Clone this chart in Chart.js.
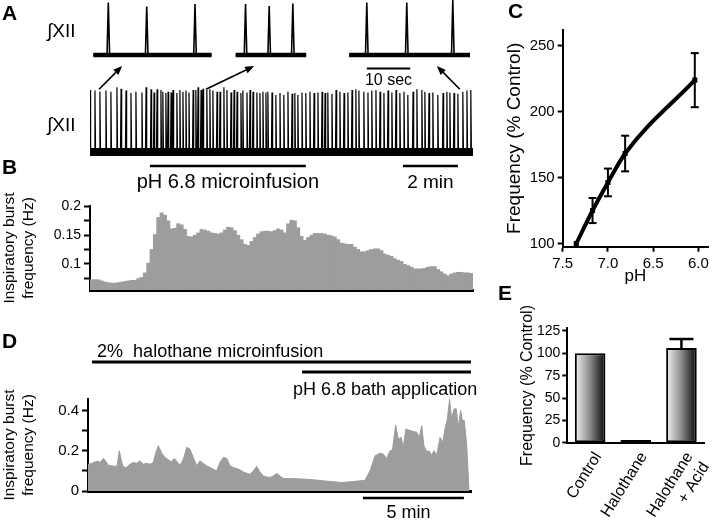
<!DOCTYPE html>
<html><head><meta charset="utf-8">
<script src="https://cdn.jsdelivr.net/npm/chart.js@4.4.1/dist/chart.umd.min.js"></script>
<style>
html,body{margin:0;padding:0;background:#fff;}
#wrap{position:relative;width:720px;height:520px;overflow:hidden;background:#fff;}
canvas{position:absolute;}
.lbl{position:absolute;font:bold 21px "Liberation Sans",Arial,sans-serif;color:#000;line-height:1;}
</style></head><body>
<div id="wrap">
<canvas id="cA" width="480" height="195" style="left:0;top:0"></canvas>
<canvas id="cB" width="480" height="125" style="left:0;top:178px"></canvas>
<canvas id="cC" width="240" height="290" style="left:480px;top:0"></canvas>
<canvas id="cD" width="490" height="200" style="left:0;top:320px"></canvas>
<canvas id="cE" width="240" height="240" style="left:480px;top:280px"></canvas>
<div class="lbl" style="left:2px;top:2px">A</div>
<div class="lbl" style="left:2px;top:156px">B</div>
<div class="lbl" style="left:508px;top:0px">C</div>
<div class="lbl" style="left:2px;top:330px">D</div>
<div class="lbl" style="left:498px;top:282px">E</div>
</div>
<script>
// ================= DATA =================
// Panel A – integrated XII nerve activity
const aBurstMin = [0.00,0.18,0.36,0.58,0.76,0.98,1.13,1.31,1.49,1.67,1.89,2.04,2.22,2.33,2.44,2.58,2.65,2.76,2.84,2.95,
 3.02,3.16,3.27,3.38,3.49,3.60,3.75,3.85,3.93,4.04,4.11,4.25,4.36,4.47,4.62,4.73,4.87,4.98,5.13,5.24,
 5.35,5.49,5.56,5.71,5.82,5.93,6.07,6.18,6.29,6.40,6.47,6.62,6.76,6.91,7.05,7.20,7.35,7.45,7.56,7.71,
 7.85,8.00,8.15,8.29,8.44,8.55,8.65,8.80,8.95,9.09,9.24,9.38,9.53,9.67,9.78,9.96,10.11,10.25,10.40,10.55,
 10.69,10.84,10.98,11.13,11.27,11.42,11.56,11.75,11.89,12.07,12.18,12.33,12.47,12.65,12.84,12.98,13.09,13.24,13.38,13.56,
 13.71,13.85];
const aBurstAmp = [0.97,0.96,0.94,0.96,0.94,1.01,0.99,0.96,0.92,0.94,0.93,1.01,0.98,0.93,0.98,0.97,0.94,0.92,0.94,0.93,
 0.97,0.92,0.97,0.94,0.96,0.93,0.97,0.97,1.01,0.97,0.99,0.97,0.98,0.96,0.94,0.94,1.01,0.97,0.93,0.97,
 0.94,0.92,0.96,0.93,0.97,0.94,0.93,0.92,0.94,0.93,0.94,0.93,0.89,0.92,0.89,0.94,0.91,0.92,0.89,0.93,
 0.92,0.94,0.92,0.93,0.94,0.92,0.93,0.91,0.97,0.94,0.92,0.93,0.97,0.98,0.96,0.94,0.93,0.96,0.97,0.94,
 0.92,0.96,0.93,0.97,0.92,0.94,0.89,0.94,0.98,0.97,0.94,0.92,0.93,0.89,0.92,0.94,0.93,0.92,0.91,0.94,
 0.96,0.97];
const aTraceEndMin = 13.93;
const aInsetSegSec = [[0,27.5],[33.1,49.5],[59.5,87.6]];
const aInsetSpikeSec = [3.49,12.42,23.65,35.4,40.9,46.4,63.6,72.9,83.6];
const aInsetSpikeAmp = [1.05,0.97,1.02,1.02,0.98,1.03,1.05,1.05,1.1];
const aInfusionMin = [2.18,7.85];
const aTwoMinBar = [11.38,13.38];
const aTenSecBar = [63.6,73.7];
const aArrowFromMin = [0.33,4.22,13.45];
const aArrowToSec = [6.7,37.4,79.9];

// Panel B – inspiratory burst frequency (Hz), one value per bin
const bFreq = [0.072,0.072,0.072,0.070,0.068,0.067,0.066,0.066,0.067,0.068,0.069,0.070,0.071,0.071,0.074,0.076,0.084,0.101,0.125,0.151,
 0.181,0.189,0.185,0.175,0.161,0.162,0.170,0.168,0.160,0.148,0.147,0.150,0.154,0.160,0.159,0.157,0.154,0.153,0.152,0.154,
 0.159,0.164,0.163,0.158,0.150,0.142,0.134,0.132,0.139,0.146,0.152,0.156,0.157,0.157,0.156,0.158,0.161,0.159,
 0.154,0.170,0.176,0.175,0.163,0.148,0.141,0.146,0.150,0.153,0.153,0.153,0.152,0.150,0.149,0.147,0.142,0.136,0.135,0.134,
 0.134,0.129,0.125,0.121,0.121,0.123,0.125,0.126,0.126,0.123,0.117,0.115,0.113,0.109,0.106,0.104,0.099,0.097,0.094,0.091,
 0.091,0.091,0.092,0.094,0.095,0.095,0.090,0.086,0.082,0.079,0.082,0.084,0.085,0.085,0.084,0.084,0.083];
const bTicks = [0.075,0.1,0.125,0.15,0.175,0.2];
const bLabeledTicks = [0.1,0.15,0.2];

// Panel C – frequency vs pH
const cPH = [7.35,7.17,7.0,6.81,6.04];
const cFreq = [100,125.1,146.4,168.3,223.9];
const cErr = [0,9.5,10.5,13.5,20.5];
const cXTicks = [7.5,7.0,6.5,6.0];
const cYTicks = [100,150,200,250];

// Panel D – burst frequency during halothane (time in min)
const dTime = [0,0.18,0.35,0.51,0.59,0.76,0.87,1.01,1.17,1.34,1.44,1.55,1.67,1.75,1.91,2.08,2.24,2.41,2.57,2.74,
 2.90,3.07,3.23,3.35,3.48,3.65,3.81,3.98,4.11,4.27,4.44,4.55,4.72,4.89,5.05,5.21,5.38,5.54,5.71,5.88,
 6.04,6.20,6.37,6.53,6.70,6.87,7.03,7.19,7.36,7.52,7.69,7.86,8.02,8.18,8.35,8.51,8.68,8.85,9.01,9.17,
 9.34,9.50,9.67,10.08,10.91,11.73,12.56,13.22,13.71,13.96,14.21,14.46,14.62,14.79,14.95,15.07,15.23,15.36,15.50,15.61,
 15.73,15.86,16.11,16.27,16.40,16.52,16.63,16.77,16.88,17.01,17.13,17.26,17.43,17.56,17.67,17.79,17.90,18.00,18.12,18.23,
 18.33,18.45,18.53,18.63,18.75,18.86];
const dFreq = [0.133,0.137,0.145,0.148,0.142,0.162,0.150,0.128,0.125,0.122,0.125,0.200,0.142,0.120,0.117,0.133,0.142,0.138,0.150,0.133,
 0.138,0.133,0.142,0.188,0.225,0.188,0.167,0.155,0.145,0.162,0.142,0.128,0.158,0.217,0.208,0.167,0.125,0.150,0.137,0.125,
 0.117,0.108,0.100,0.142,0.167,0.162,0.125,0.117,0.112,0.105,0.095,0.088,0.083,0.100,0.122,0.095,0.075,0.070,0.067,0.075,
 0.088,0.075,0.062,0.062,0.058,0.050,0.042,0.048,0.053,0.100,0.175,0.188,0.183,0.162,0.200,0.203,0.328,0.258,0.267,0.217,
 0.308,0.303,0.295,0.292,0.267,0.325,0.225,0.195,0.200,0.178,0.200,0.178,0.267,0.242,0.308,0.358,0.455,0.358,0.408,0.408,
 0.317,0.400,0.350,0.350,0.225,0.008];
const dTicks = [0,0.1,0.2,0.3,0.4];
const dLabeledTicks = [0,0.2,0.4];
const dHalothaneMin = [0.2,18.96];
const dAcidMin = [10.6,18.96];
const dFiveMinBar = [13.61,18.61];

// Panel E – frequency (% control)
const eCats = ['Control','Halothane',['Halothane','+ Acid']];
const eFreq = [100,3,106];
const eErr = [0,0,10];
const eTicks = [0,25,50,75,100,125];

// ================= HELPERS =================
const FF = '"Liberation Sans", Arial, Helvetica, sans-serif';
Chart.defaults.font.family = FF;
Chart.defaults.color = '#000';
const GRAY = '#9d9d9d';
const noPlug = {legend:{display:false},tooltip:{enabled:false}};

function seg(ctx,x1,y1,x2,y2,w){ctx.save();ctx.strokeStyle='#000';ctx.lineWidth=w;ctx.beginPath();ctx.moveTo(x1,y1);ctx.lineTo(x2,y2);ctx.stroke();ctx.restore();}
function txt(ctx,s,x,y,size,align){ctx.save();ctx.fillStyle='#000';ctx.font=size+'px '+FF;ctx.textAlign=align||'center';ctx.textBaseline='alphabetic';ctx.fillText(s,x,y);ctx.restore();}
function arrow(ctx,x1,y1,x2,y2){
  const a=Math.atan2(y2-y1,x2-x1),L=9,H=3.6;
  const bx=x2-L*Math.cos(a),by=y2-L*Math.sin(a);
  seg(ctx,x1,y1,bx,by,1.6);
  ctx.save();ctx.fillStyle='#000';ctx.beginPath();ctx.moveTo(x2,y2);
  ctx.lineTo(bx+H*Math.sin(a),by-H*Math.cos(a));ctx.lineTo(bx-H*Math.sin(a),by+H*Math.cos(a));ctx.closePath();ctx.fill();ctx.restore();
}
function fixedTicks(list){return s=>{s.ticks=list.map(v=>({value:v}));};}

// ================= PANEL A =================
const aBottomPts=[{x:0,y:0}];
aBurstMin.forEach((t,i)=>{aBottomPts.push({x:t-0.022,y:0},{x:t,y:aBurstAmp[i]},{x:t+0.022,y:0});});
aBottomPts.push({x:aTraceEndMin,y:0});
const aBottomBase=[{x:0,y:0},{x:aTraceEndMin,y:0}];
const aInsetPts=[],aInsetBase=[];
aInsetSegSec.forEach(([s,e])=>{
  aInsetPts.push({x:s,y:0});aInsetBase.push({x:s,y:0});
  aInsetSpikeSec.forEach((t,i)=>{ if(t>s&&t<e){aInsetPts.push({x:t-0.3,y:0},{x:t,y:aInsetSpikeAmp[i]},{x:t+0.3,y:0});} });
  aInsetPts.push({x:e,y:0},{x:e+0.5,y:null});
  aInsetBase.push({x:e,y:0},{x:e+0.5,y:null});
});
const annotA={id:'annotA',afterDraw(chart){
  const {ctx,chartArea:ca,scales:{x,y,x2,y2}}=chart;
  ctx.save();ctx.fillStyle='#000';ctx.font='19px '+FF;ctx.textAlign='left';ctx.textBaseline='middle';
  ctx.fillText('\u222BXII',ca.left-43,y2.getPixelForValue(0.46));
  ctx.fillText('\u222BXII',ca.left-43,y.getPixelForValue(0.41));
  ctx.restore();
  aArrowFromMin.forEach((m,i)=>arrow(ctx,x.getPixelForValue(m),y.getPixelForValue(0.98),x2.getPixelForValue(aArrowToSec[i]),y2.getPixelForValue(-0.22)));
  const ty=y2.getPixelForValue(-0.27);
  const t1=x2.getPixelForValue(aTenSecBar[0]),t2=x2.getPixelForValue(aTenSecBar[1]);
  seg(ctx,t1,ty,t2,ty,2);
  txt(ctx,'10 sec',(t1+t2)/2,ty+16,16);
  const by=ca.bottom+6;
  const p1=x.getPixelForValue(aInfusionMin[0]),p2=x.getPixelForValue(aInfusionMin[1]);
  seg(ctx,p1,by,p2,by,2.5);
  txt(ctx,'pH 6.8 microinfusion',(p1+p2)/2,by+22,20);
  const m1=x.getPixelForValue(aTwoMinBar[0]),m2=x.getPixelForValue(aTwoMinBar[1]);
  seg(ctx,m1,by,m2,by,2.5);
  txt(ctx,'2 min',(m1+m2)/2,by+22,19);
}};
new Chart(document.getElementById('cA'),{
  type:'line',
  data:{datasets:[
    {data:aBottomPts,xAxisID:'x',yAxisID:'y',borderColor:'#000',borderWidth:1.2,pointRadius:0,tension:0},
    {data:aBottomBase,xAxisID:'x',yAxisID:'y',borderColor:'#000',borderWidth:8,pointRadius:0},
    {data:aInsetPts,xAxisID:'x2',yAxisID:'y2',borderColor:'#000',borderWidth:1.6,pointRadius:0,tension:0,spanGaps:false},
    {data:aInsetBase,xAxisID:'x2',yAxisID:'y2',borderColor:'#000',borderWidth:4.5,pointRadius:0,spanGaps:false}
  ]},
  options:{animation:false,responsive:false,events:[],plugins:noPlug,
    layout:{padding:{left:90,right:7,top:0,bottom:35}},
    scales:{
      x:{type:'linear',display:false,min:0,max:aTraceEndMin},
      y:{display:false,min:-0.125,max:2.375},
      x2:{type:'linear',display:false,min:-0.77,max:88.3},
      y2:{display:false,min:-2.1,max:1.1}
    }},
  plugins:[annotA]
});

// ================= PANEL B =================
new Chart(document.getElementById('cB'),{
  type:'bar',
  data:{labels:bFreq.map((_,i)=>i),datasets:[{data:bFreq,backgroundColor:GRAY,borderWidth:0,categoryPercentage:1,barPercentage:1}]},
  options:{animation:false,responsive:false,events:[],plugins:noPlug,
    layout:{padding:{left:0,right:7,top:28,bottom:0}},
    scales:{
      x:{grid:{display:false,drawTicks:false},ticks:{display:false},border:{color:'#000',width:3},afterFit:s=>{s.height=13;}},
      y:{min:0.054,max:0.201,afterBuildTicks:fixedTicks(bTicks),
        ticks:{font:{size:14},padding:3,autoSkip:false,callback:v=>bLabeledTicks.some(t=>Math.abs(t-v)<1e-9)?String(v):''},
        grid:{drawOnChartArea:false,drawTicks:true,tickLength:6,tickWidth:2,tickColor:'#000'},
        border:{color:'#000',width:2},
        title:{display:true,text:['Inspiratory burst','frequency (Hz)'],font:{size:15.5,lineHeight:1.25},padding:{top:0,bottom:0}},
        afterFit:s=>{s.width=90;}}
    }}
});

// ================= PANEL C =================
const errC={id:'errC',afterDatasetsDraw(chart){
  const {ctx,scales:{x,y}}=chart;
  cPH.forEach((p,i)=>{ if(!cErr[i])return;
    const px=x.getPixelForValue(p),lo=y.getPixelForValue(cFreq[i]-cErr[i]),hi=y.getPixelForValue(cFreq[i]+cErr[i]);
    seg(ctx,px,lo,px,hi,2);seg(ctx,px-4,lo,px+4,lo,2);seg(ctx,px-4,hi,px+4,hi,2);
  });
}};
new Chart(document.getElementById('cC'),{
  type:'line',
  data:{datasets:[{data:cPH.map((p,i)=>({x:p,y:cFreq[i]})),borderColor:'#000',borderWidth:4,cubicInterpolationMode:'monotone',
    pointStyle:'rect',pointRadius:3.6,pointBackgroundColor:'#000',pointBorderColor:'#000',pointBorderWidth:0}]},
  options:{animation:false,responsive:false,events:[],plugins:noPlug,
    layout:{padding:{left:0,right:12,top:30,bottom:0}},
    scales:{
      x:{type:'linear',reverse:true,min:5.894,max:7.5,afterBuildTicks:fixedTicks(cXTicks),
        ticks:{font:{size:15},padding:3,autoSkip:false,callback:v=>v.toFixed(1)},
        grid:{drawOnChartArea:false,drawTicks:true,tickLength:5,tickWidth:2,tickColor:'#000'},
        border:{color:'#000',width:2},
        title:{display:true,text:'pH',font:{size:17,lineHeight:1.2},padding:{top:0,bottom:3}},
        afterFit:s=>{s.height=43.3;}},
      y:{min:97.7,max:261.9,afterBuildTicks:fixedTicks(cYTicks),
        ticks:{font:{size:15},padding:3,autoSkip:false},
        grid:{drawOnChartArea:false,drawTicks:true,tickLength:5,tickWidth:2,tickColor:'#000'},
        border:{color:'#000',width:2},
        title:{display:true,text:'Frequency (% Control)',font:{size:19,lineHeight:1.2},padding:{top:23,bottom:0}},
        afterFit:s=>{s.width=82.7;}}
    }},
  plugins:[errC]
});

// ================= PANEL D =================
const annotD={id:'annotD',afterDraw(chart){
  const {ctx,chartArea:ca,scales:{x}}=chart;
  const h1=x.getPixelForValue(dHalothaneMin[0]),h2=x.getPixelForValue(dHalothaneMin[1]);
  seg(ctx,h1,ca.top-37,h2,ca.top-37,3);
  txt(ctx,'2%  halothane microinfusion',x.getPixelForValue(0.45),ca.top-42,18,'left');
  const a1=x.getPixelForValue(dAcidMin[0]),a2=x.getPixelForValue(dAcidMin[1]);
  seg(ctx,a1,ca.top-27,a2,ca.top-27,3);
  txt(ctx,'pH 6.8 bath application',x.getPixelForValue(10.15),ca.top-4,18,'left');
  const f1=x.getPixelForValue(dFiveMinBar[0]),f2=x.getPixelForValue(dFiveMinBar[1]);
  seg(ctx,f1,ca.bottom+7,f2,ca.bottom+7,2.5);
  txt(ctx,'5 min',(f1+f2)/2-5,ca.bottom+27,18);
}};
new Chart(document.getElementById('cD'),{
  type:'line',
  data:{datasets:[{data:dTime.map((t,i)=>({x:t,y:dFreq[i]})),borderColor:GRAY,borderWidth:1,backgroundColor:GRAY,fill:'origin',pointRadius:0,tension:0}]},
  options:{animation:false,responsive:false,events:[],plugins:noPlug,
    layout:{padding:{left:0,right:19,top:79,bottom:0}},
    scales:{
      x:{type:'linear',min:0,max:18.96,grid:{display:false,drawTicks:false},ticks:{display:false},border:{color:'#000',width:3},afterFit:s=>{s.height=29;}},
      y:{min:0,max:0.457,afterBuildTicks:fixedTicks(dTicks),
        ticks:{font:{size:15},padding:3,autoSkip:false,callback:v=>dLabeledTicks.some(t=>Math.abs(t-v)<1e-9)?String(v):''},
        grid:{drawOnChartArea:false,drawTicks:true,tickLength:6,tickWidth:2,tickColor:'#000'},
        border:{color:'#000',width:2},
        title:{display:true,text:['Inspiratory burst','frequency (Hz)'],font:{size:15.5,lineHeight:1.25},padding:{top:0,bottom:0}},
        afterFit:s=>{s.width=88;}}
    }},
  plugins:[annotD]
});

// ================= PANEL E =================
const errE={id:'errE',afterDatasetsDraw(chart){
  const {ctx,scales:{x,y}}=chart;
  eFreq.forEach((v,i)=>{ if(!eErr[i])return;
    const px=x.getPixelForValue(i),lo=y.getPixelForValue(v),hi=y.getPixelForValue(v+eErr[i]);
    seg(ctx,px,lo,px,hi,2.5);seg(ctx,px-12,hi,px+12,hi,2.5);
  });
}};
new Chart(document.getElementById('cE'),{
  type:'bar',
  data:{labels:eCats,datasets:[{data:eFreq,borderColor:'#000',borderWidth:2,borderSkipped:false,categoryPercentage:1,barPercentage:0.67,
    backgroundColor:(c)=>{
      const ch=c.chart;
      if(!ch.chartArea||c.type!=='data')return '#888';
      const xs=ch.scales.x,cx=xs.getPixelForValue(c.dataIndex),w=xs.width/eCats.length*0.67;
      const g=ch.ctx.createLinearGradient(cx-w/2,0,cx+w/2,0);
      g.addColorStop(0,'#f4f4f4');g.addColorStop(0.5,'#8a8a8a');g.addColorStop(1,'#050505');
      return g;
    }}]},
  options:{animation:false,responsive:false,events:[],plugins:noPlug,
    layout:{padding:{left:0,right:0,top:48.3,bottom:0}},
    scales:{
      x:{grid:{display:false,drawTicks:false},border:{color:'#000',width:2},
        ticks:{font:{size:16},autoSkip:false,maxRotation:58,minRotation:58,padding:6,labelOffset:8},
        afterFit:s=>{s.height=77.3;}},
      y:{min:0,max:128,afterBuildTicks:fixedTicks(eTicks),
        ticks:{font:{size:14},padding:2,autoSkip:false},
        grid:{drawOnChartArea:false,drawTicks:true,tickLength:5,tickWidth:2,tickColor:'#000'},
        border:{color:'#000',width:2},
        title:{display:true,text:'Frequency (% Control)',font:{size:16,lineHeight:1.2},padding:{top:38,bottom:0}},
        afterFit:s=>{s.width=87.3;}}
    }},
  plugins:[errE]
});
</script>
</body></html>
